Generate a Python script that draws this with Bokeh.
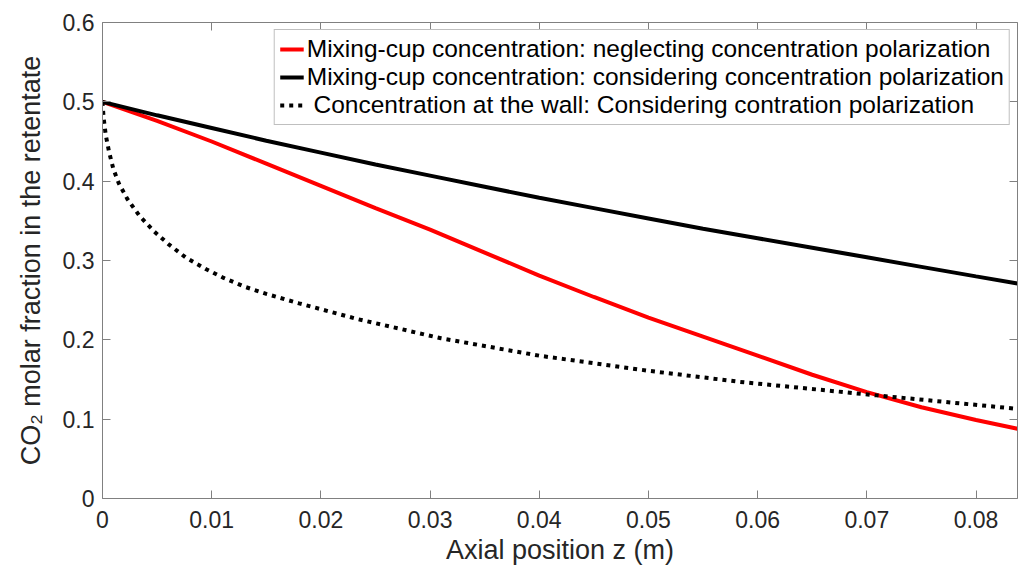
from bokeh.plotting import figure
from bokeh.models import LinearAxis, FixedTicker, Legend, LegendItem, Range1d
from bokeh.embed import file_html
from bokeh.resources import INLINE

# ---- data ----
z_red = [0, 0.005, 0.01, 0.015, 0.02, 0.025, 0.03, 0.035, 0.04, 0.045, 0.05,
         0.055, 0.06, 0.065, 0.07, 0.075, 0.08, 0.0838]
y_red = [0.5, 0.476, 0.450, 0.422, 0.394, 0.366, 0.339, 0.310, 0.281, 0.254, 0.228,
         0.204, 0.180, 0.156, 0.134, 0.115, 0.099, 0.088]

z_black = [0, 0.005, 0.01, 0.015, 0.02, 0.025, 0.03, 0.035, 0.04, 0.045, 0.05,
           0.055, 0.06, 0.065, 0.07, 0.075, 0.08, 0.0838]
y_black = [0.5, 0.483, 0.467, 0.451, 0.436, 0.421, 0.407, 0.393, 0.379, 0.366, 0.353,
           0.340, 0.328, 0.316, 0.304, 0.292, 0.280, 0.271]

z_wall = [0, 0.0001, 0.0003, 0.0006, 0.001, 0.0015, 0.0023, 0.0034, 0.0047, 0.0061,
          0.0076, 0.0095, 0.0111, 0.013, 0.015, 0.018, 0.0234, 0.031, 0.04, 0.05,
          0.0584, 0.0709, 0.0838]
y_wall = [0.5, 0.480, 0.458, 0.437, 0.415, 0.397, 0.377, 0.356, 0.337, 0.320,
          0.304, 0.289, 0.278, 0.267, 0.258, 0.246, 0.226, 0.202, 0.180, 0.161,
          0.147, 0.130, 0.113]

x_ticks = [0, 0.01, 0.02, 0.03, 0.04, 0.05, 0.06, 0.07, 0.08]
x_tick_labels = ["0", "0.01", "0.02", "0.03", "0.04", "0.05", "0.06", "0.07", "0.08"]
y_ticks = [0, 0.1, 0.2, 0.3, 0.4, 0.5, 0.6]
y_tick_labels = ["0", "0.1", "0.2", "0.3", "0.4", "0.5", "0.6"]

labels = ["Mixing-cup concentration: neglecting concentration polarization",
          "Mixing-cup concentration: considering concentration polarization",
          " Concentration at the wall: Considering contration polarization"]

FONT = "Liberation Sans"
AXIS_COL = "#808080"
TXT_COL = "#262626"

p = figure(frame_width=915, frame_height=476, output_backend="svg",
           toolbar_location=None, x_range=Range1d(0, 0.0838), y_range=Range1d(0, 0.6),
           min_border_left=102, min_border_top=22, min_border_right=2, min_border_bottom=60)
p.outline_line_color = None
p.grid.visible = False
p.background_fill_color = "white"

r1 = p.line(z_red, y_red, line_color="#ff0000", line_width=4)
r2 = p.line(z_black, y_black, line_color="#000000", line_width=4)
r3 = p.line(z_wall, y_wall, line_color="#000000", line_width=4, line_dash="4 5",
            line_cap="butt")

def style(ax, ticks, tick_labels, show):
    ax.ticker = FixedTicker(ticks=ticks)
    ax.major_label_overrides = {t: l for t, l in zip(ticks, tick_labels)}
    ax.minor_tick_line_color = None
    ax.major_tick_in = 8
    ax.major_tick_out = 0
    ax.axis_line_color = AXIS_COL
    ax.major_tick_line_color = AXIS_COL
    ax.axis_line_width = 1
    if show:
        ax.major_label_text_font = FONT
        ax.major_label_text_font_size = "23px"
        ax.major_label_text_color = TXT_COL
        ax.axis_label_text_font = FONT
        ax.axis_label_text_font_size = "27px"
        ax.axis_label_text_font_style = "normal"
        ax.axis_label_text_color = TXT_COL
    else:
        ax.major_label_text_font_size = "1px"
        ax.major_label_text_color = None
        ax.major_label_standoff = 0

style(p.xaxis[0], x_ticks, x_tick_labels, True)
style(p.yaxis[0], y_ticks, y_tick_labels, True)
p.xaxis[0].axis_label = "Axial position z (m)"
p.yaxis[0].axis_label = "CO\u2082 molar fraction in the retentate"
p.xaxis[0].major_label_standoff = 12
p.xaxis[0].axis_label_standoff = 4
p.yaxis[0].major_label_standoff = 8
p.yaxis[0].axis_label_standoff = 14

top = LinearAxis()
right = LinearAxis()
style(top, x_ticks, x_tick_labels, False)
style(right, y_ticks, y_tick_labels, False)
p.add_layout(top, "above")
p.add_layout(right, "right")

legend = Legend(items=[LegendItem(label=labels[0], renderers=[r1]),
                       LegendItem(label=labels[1], renderers=[r2]),
                       LegendItem(label=labels[2], renderers=[r3])],
                location="top_right")
legend.margin = 7
legend.padding = 5
legend.spacing = 0
legend.glyph_width = 24
legend.label_standoff = 3
legend.label_text_font = FONT
legend.label_text_font_size = "24.5px"
legend.label_text_color = "#000000"
legend.border_line_color = AXIS_COL
legend.border_line_width = 1
legend.background_fill_color = "white"
legend.background_fill_alpha = 1
p.add_layout(legend, "center")

open("out.html", "w").write(file_html(p, INLINE))
